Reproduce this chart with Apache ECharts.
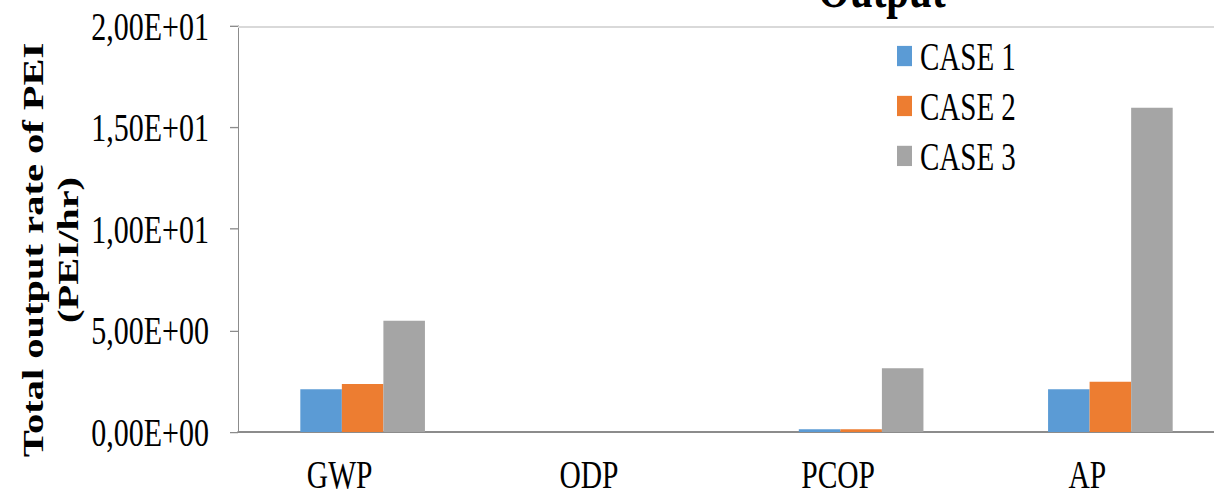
<!DOCTYPE html>
<html>
<head>
<meta charset="utf-8">
<script src="https://cdn.jsdelivr.net/npm/echarts@6/dist/echarts.min.js"></script>
<style>
  html, body { margin: 0; padding: 0; background: #fff; overflow: hidden; }
  #wrap { width: 1214px; height: 497px; overflow: hidden; }
  #chart { width: 1214px; transform-origin: 0 0; }
</style>
</head>
<body>
<div id="wrap"><div id="chart"></div></div>
<script>
// Chart data
const categories = ['GWP', 'ODP', 'PCOP', 'AP'];
const case1 = [2.10, 0, 0.13, 2.10];
const case2 = [2.36, 0, 0.14, 2.48];
const case3 = [5.48, 0, 3.14, 15.97];
const seriesNames = ['CASE 1', 'CASE 2', 'CASE 3'];
const yTickLabels = ['0,00E+00', '5,00E+00', '1,00E+01', '1,50E+01', '2,00E+01'];
const yMax = 20;
const yStep = 5;

// The figure is drawn with tall, narrow lettering: lay it out at a reduced
// height and stretch it vertically.
const S = 1.35;
const H = 497 / S;
const v = y => y / S;

const el = document.getElementById('chart');
el.style.height = H + 'px';
el.style.transform = 'scaleY(' + S + ')';

const serif = 'Liberation Serif';
const colors = ['#5B9BD5', '#ED7D31', '#A5A5A5'];

const chart = echarts.init(el, null, { renderer: 'svg', width: 1214, height: H });

const values = [case1, case2, case3];

chart.setOption({
  animation: false,
  color: colors,
  title: {
    text: 'Output',
    left: 813,
    top: -34,
    textStyle: { fontFamily: serif, fontSize: 41, fontWeight: 'bold', color: '#000' }
  },
  legend: {
    orient: 'vertical',
    left: 892,
    top: 22,
    itemWidth: 15,
    itemHeight: 15,
    itemGap: 8,
    icon: 'rect',
    textStyle: { fontFamily: serif, fontSize: 29, lineHeight: 29, color: '#000', padding: [0, 0, 0, 3] },
    data: seriesNames
  },
  grid: {
    left: 238,
    right: 1214 - 238 - 997,
    top: v(26),
    bottom: H - v(432),
    outerBoundsMode: 'none'
  },
  xAxis: {
    type: 'category',
    data: categories,
    axisLine: { show: true, lineStyle: { color: '#8c8c8c', width: 1.5 } },
    axisTick: { show: false },
    axisLabel: {
      fontFamily: serif, fontSize: 29.5, color: '#000',
      margin: 17,
      lineHeight: 30,
      padding: [0, 46, 0, 0]
    }
  },
  yAxis: {
    type: 'value',
    min: 0,
    max: yMax,
    interval: yStep,
    axisLine: { show: true, lineStyle: { color: '#8c8c8c', width: 1 } },
    axisTick: { show: true, inside: false, length: 8, lineStyle: { color: '#8c8c8c' } },
    splitLine: { show: false },
    axisLabel: {
      fontFamily: serif, fontSize: 30, color: '#000',
      margin: 29,
      formatter: val => yTickLabels[Math.round(val / yStep)]
    }
  },
  graphic: [{
    type: 'text',
    x: 50,
    y: v(250),
    rotation: Math.PI / 2,
    style: {
      text: 'Total output rate of PEI\n(PEI/hr)',
      align: 'center',
      verticalAlign: 'middle',
      fontFamily: serif,
      fontSize: 30,
      fontWeight: 'bold',
      lineHeight: 35,
      fill: '#000'
    }
  }],
  series: seriesNames.map((name, i) => ({
    name: name,
    type: 'bar',
    data: values[i],
    barGap: '0%',
    barCategoryGap: '50%',
    itemStyle: { color: colors[i] },
    markLine: i === 0 ? {
      silent: true,
      symbol: 'none',
      label: { show: false },
      lineStyle: { color: '#d9d9d9', width: 1.5, type: 'solid' },
      data: [{ yAxis: yMax }]
    } : undefined
  }))
});
</script>
</body>
</html>
